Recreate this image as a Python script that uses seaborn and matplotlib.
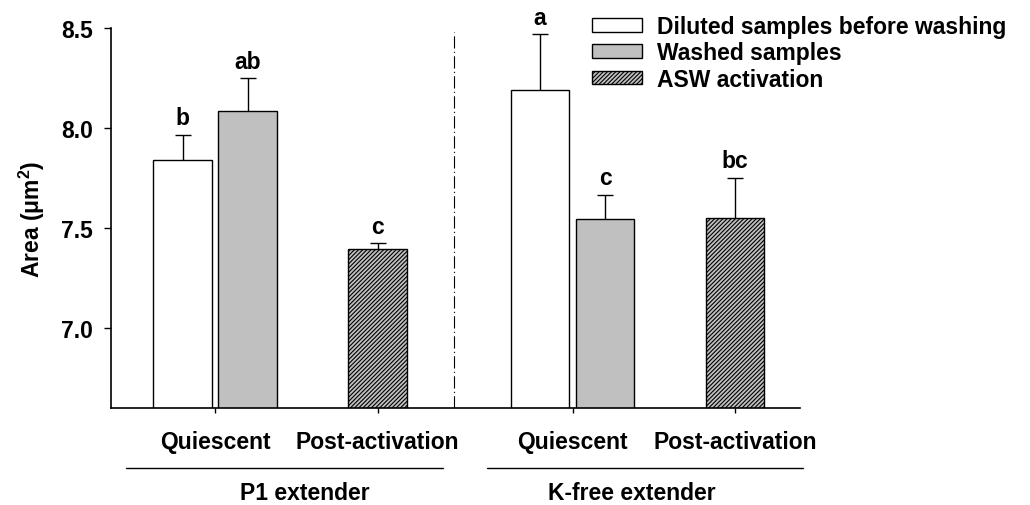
import numpy as np
import pandas as pd
import matplotlib
matplotlib.use("Agg")
import matplotlib.pyplot as plt
from matplotlib.patches import Patch
import seaborn as sns

# ---------------- data ----------------
groups = ["P1 extender", "K-free extender"]
phases = ["Quiescent", "Post-activation"]
series = ["Diluted samples before washing", "Washed samples", "ASW activation"]
series_phase = ["Quiescent", "Quiescent", "Post-activation"]

p1_means = [7.84, 8.083, 7.395]
p1_errs = [0.126, 0.167, 0.030]
kfree_means = [8.188, 7.543, 7.550]
kfree_errs = [0.280, 0.124, 0.202]
p1_letters = ["b", "ab", "c"]
kfree_letters = ["a", "c", "bc"]

yticks = [7.0, 7.5, 8.0, 8.5]
ylim = (6.6, 8.5)
y_label = r"Area (μm$^{\mathbf{2}}$)"

# ---------------- layout (not data) ----------------
group_origin = [0.0, 5.5]
phase_offset = {"Quiescent": 0.0, "Post-activation": 2.5}
series_offset = [-0.5, 0.5, 0.0]
palette = {series[0]: "#ffffff", series[1]: "#c0c0c0", series[2]: "#c0c0c0"}
hatch = "////////"
FS = 16.5

sns.set_style("ticks")
plt.rcParams["font.family"] = ["Liberation Sans", "DejaVu Sans"]
plt.rcParams["font.weight"] = "bold"
plt.rcParams["axes.labelweight"] = "bold"
plt.rcParams["mathtext.fontset"] = "custom"
plt.rcParams["mathtext.rm"] = "Liberation Sans"
plt.rcParams["mathtext.bf"] = "Liberation Sans:bold"
plt.rcParams["hatch.linewidth"] = 0.8
for k in ["text.color", "axes.labelcolor", "xtick.color", "ytick.color", "axes.edgecolor"]:
    plt.rcParams[k] = "black"

means_all = [p1_means, kfree_means]
errs_all = [p1_errs, kfree_errs]
letters_all = [p1_letters, kfree_letters]

rows = []
for gi, g in enumerate(groups):
    for si, s in enumerate(series):
        pos = group_origin[gi] + phase_offset[series_phase[si]] + series_offset[si]
        rows.append({"group": g, "series": s, "pos": pos,
                     "value": means_all[gi][si], "err": errs_all[gi][si],
                     "letter": letters_all[gi][si]})
df = pd.DataFrame(rows)

fig = plt.figure(figsize=(10.30, 5.06), dpi=100)
ax = fig.add_axes([0.10777, 0.19170, 0.66893, 0.75099])

sns.barplot(data=df, x="pos", y="value", hue="series", hue_order=series,
            palette=palette, native_scale=True, dodge=False, width=0.9,
            errorbar=None, edgecolor="black", linewidth=1.0, legend=False,
            ax=ax, zorder=2)

hatch_pos = df.loc[df["series"] == series[2], "pos"].to_numpy()
for p in ax.patches:
    cx = p.get_x() + p.get_width() / 2
    if np.any(np.abs(hatch_pos - cx) < 1e-6):
        p.set_hatch(hatch)

eb = ax.errorbar(df["pos"], df["value"],
                 yerr=[np.zeros(len(df)), df["err"]],
                 fmt="none", ecolor="black", elinewidth=1.0, capsize=5.5,
                 capthick=1.0, zorder=3)
# keep only the upper caps
eb[1][0].set_visible(False)

for _, r in df.iterrows():
    ax.annotate(r["letter"], (r["pos"], r["value"] + r["err"]),
                xytext=(0, 7.5), textcoords="offset points",
                ha="center", va="baseline", fontsize=FS, fontweight="bold")

# divider between extenders
ax.plot([3.68, 3.68], [ylim[0], 8.48], color="black", lw=0.8,
        linestyle=(0, (11, 3, 1, 3)), zorder=1)

ax.set_xlim(-1.6, 9.0)
ax.set_ylim(*ylim)
ax.set_yticks(yticks)
ax.set_yticklabels([f"{v:.1f}" for v in yticks], fontsize=FS, fontweight="bold")
tick_pos = [group_origin[gi] + phase_offset[ph] for gi in range(len(groups)) for ph in phases]
ax.set_xticks(tick_pos)
ax.set_xticklabels(phases * len(groups), fontsize=FS, fontweight="bold")
ax.set_xlabel("")
ax.set_ylabel(y_label, fontsize=FS, fontweight="bold", labelpad=10)
ax.tick_params(axis="y", length=5, width=1.0, pad=8, colors="black")
ax.tick_params(axis="x", length=3.6, width=1.0, pad=12, colors="black")
for sp in ["top", "right"]:
    ax.spines[sp].set_visible(False)
for sp in ["left", "bottom"]:
    ax.spines[sp].set_linewidth(1.2)
    ax.spines[sp].set_color("black")

# group annotation lines and labels
trans = ax.get_xaxis_transform()
line_spans = [(-1.37, 3.51), (4.18, 9.05)]
label_x = [1.38, 6.42]
for gi, g in enumerate(groups):
    ax.plot(line_spans[gi], [-0.158, -0.158], color="black", lw=1.0,
            transform=trans, clip_on=False)
    ax.text(label_x[gi], -0.2395, g, transform=trans, ha="center", va="baseline",
            fontsize=FS, fontweight="bold")

handles = [Patch(facecolor=palette[s], edgecolor="black", linewidth=1.0,
                 hatch=(hatch if i == 2 else None)) for i, s in enumerate(series)]
fig.legend(handles, series, loc="upper left", bbox_to_anchor=(0.5748, 0.968),
           frameon=False, prop={"weight": "bold", "size": FS},
           handlelength=50 / (FS * 100 / 72), handleheight=12.5 / (FS * 100 / 72),
           handletextpad=15 / (FS * 100 / 72),
           labelspacing=0.14, borderpad=0, borderaxespad=0)

fig.savefig("out.png", dpi=100)
